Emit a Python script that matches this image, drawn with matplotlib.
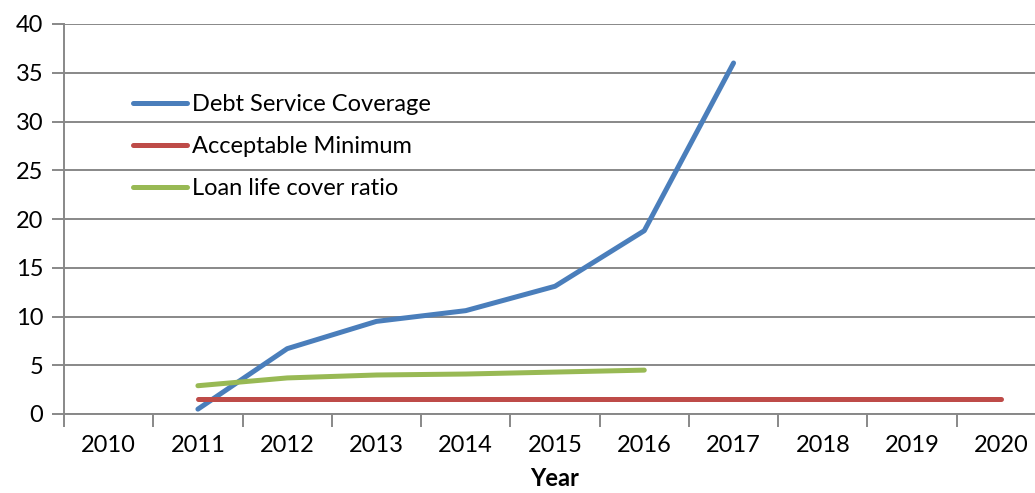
import numpy as np
import matplotlib.pyplot as plt

plt.rcParams['font.family'] = ['Lato', 'DejaVu Sans']

years = ['2010', '2011', '2012', '2013', '2014', '2015', '2016', '2017', '2018', '2019', '2020']
debt_service = [np.nan, 0.5, 6.7, 9.5, 10.6, 13.1, 18.8, 36.0, np.nan, np.nan, np.nan]
acceptable_min = [np.nan, 1.5, 1.5, 1.5, 1.5, 1.5, 1.5, 1.5, 1.5, 1.5, 1.5]
loan_life = [np.nan, 2.9, 3.7, 4.0, 4.1, 4.3, 4.5, np.nan, np.nan, np.nan, np.nan]

grid_col = '#888888'
fs = 17
x = np.arange(len(years))

fig = plt.figure(figsize=(10.35, 4.93), dpi=100)
ax = fig.add_axes([64 / 1035, 1 - 414 / 493, 982 / 1035, 390 / 493])

ax.plot(x, debt_service, color='#4a7ebb', lw=3.6, solid_capstyle='round',
        solid_joinstyle='round', label='Debt Service Coverage', zorder=3)
ax.plot(x, acceptable_min, color='#be4b48', lw=3.6, solid_capstyle='round',
        label='Acceptable Minimum', zorder=3)
ax.plot(x, loan_life, color='#98b954', lw=3.6, solid_capstyle='round',
        solid_joinstyle='round', label='Loan life cover ratio', zorder=3)

ax.set_xlim(-0.5, len(years) - 0.5)
ax.set_ylim(0, 40)
ax.set_yticks(np.arange(0, 41, 5))
ax.yaxis.grid(True, color=grid_col, lw=1.4)
ax.set_axisbelow(True)

# category boundaries get the tick marks, labels sit in the middle
ax.set_xticks(np.arange(-0.5, len(years), 1.0))
ax.set_xticklabels([])
ax.set_xticks(x, minor=True)
ax.set_xticklabels(years, minor=True)
ax.tick_params(axis='x', which='major', length=9, width=1.4, color=grid_col, direction='out')
ax.tick_params(axis='x', which='minor', length=0, pad=15, labelsize=fs)
ax.tick_params(axis='y', length=9, width=1.4, color=grid_col, pad=6, labelsize=fs)

for side in ['top', 'right']:
    ax.spines[side].set_visible(False)
for side in ['left', 'bottom']:
    ax.spines[side].set_color(grid_col)
    ax.spines[side].set_linewidth(1.4)

ax.set_xlabel('Year', fontsize=fs, fontweight='bold', labelpad=8)

ax.legend(loc='upper left', bbox_to_anchor=(69 / 982, 1 - 70 / 390), frameon=False,
          fontsize=fs, handlelength=2.3, handletextpad=0.2, labelspacing=0.89,
          borderpad=0, borderaxespad=0)

fig.savefig('out.png', dpi=100)
